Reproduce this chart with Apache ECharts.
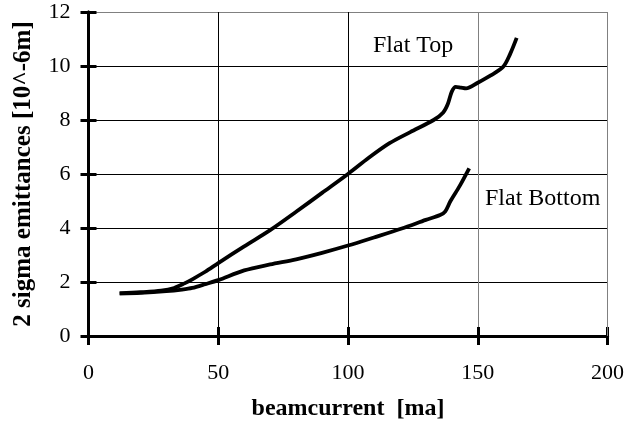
<!DOCTYPE html>
<html><head><meta charset="utf-8">
<script src="https://cdn.jsdelivr.net/npm/echarts@6/dist/echarts.min.js"></script>
<style>html,body{margin:0;padding:0;background:#fff}#c{width:628px;height:431px}</style>
</head><body><div id="c"></div>
<script>
const xTicks = [0, 50, 100, 150, 200];
const yTicks = [0, 2, 4, 6, 8, 10, 12];
const flatTopX = [12, 20, 28, 33, 37, 40, 45, 50, 60, 70, 80, 90, 100, 108, 116, 124, 133, 136.7, 138.5, 140, 141.5, 143.5, 145.5, 150, 155, 159.8, 162.5, 165];
const flatTopY = [1.58, 1.62, 1.68, 1.78, 1.95, 2.1, 2.38, 2.7, 3.32, 3.92, 4.6, 5.3, 6.0, 6.6, 7.14, 7.55, 8.0, 8.28, 8.6, 9.05, 9.23, 9.2, 9.17, 9.38, 9.65, 9.97, 10.45, 11.04];
const flatBottomX = [12, 20, 30, 36, 40, 45, 50, 60, 70, 80, 90, 100, 110, 120.7, 130, 135.5, 137.5, 139.5, 143, 146.7];
const flatBottomY = [1.58, 1.60, 1.66, 1.72, 1.78, 1.92, 2.07, 2.43, 2.65, 2.84, 3.08, 3.35, 3.65, 3.98, 4.3, 4.48, 4.62, 5.0, 5.55, 6.21];
const xTitle = 'beamcurrent  [ma]';
const yTitle = '2 sigma emittances [10^-6m]';
const labelTop = 'Flat Top';
const labelBottom = 'Flat Bottom';

const font = 'Liberation Serif';
const chart = echarts.init(document.getElementById('c'), null, {renderer: 'canvas'});
const pairs = (xs, ys) => xs.map((x, i) => [x, ys[i]]);
const baseX = {
  type: 'value', min: xTicks[0], max: xTicks[xTicks.length - 1], interval: xTicks[1] - xTicks[0],
  axisLine: {show: true, onZero: false, lineStyle: {color: '#000', width: 3}},
  axisTick: {show: true, length: 9, lineStyle: {color: '#000', width: 3}},
};
const baseY = {
  type: 'value', min: yTicks[0], max: yTicks[yTicks.length - 1], interval: yTicks[1] - yTicks[0],
  axisLine: {show: true, onZero: false, lineStyle: {color: '#000', width: 3}},
  axisTick: {show: true, length: 8, lineStyle: {color: '#000', width: 3}},
};
chart.setOption({
  animation: false,
  grid: {left: 88.5, right: 20.5, top: 12, bottom: 95, show: false},
  xAxis: [
    Object.assign({}, baseX, {
      name: xTitle, nameLocation: 'middle', nameGap: 61,
      nameTextStyle: {fontFamily: font, fontWeight: 'bold', fontSize: 24, color: '#000'},
      axisLabel: {fontFamily: font, fontSize: 22, color: '#000', margin: 26},
      splitLine: {show: true, lineStyle: {color: ['#000', '#000', '#000', '#808080', '#808080'], width: 1}},
    }),
    Object.assign({}, baseX, {
      position: 'bottom', axisTick: {show: true, inside: true, length: 9, lineStyle: {color: '#000', width: 3}},
      axisLabel: {show: false}, splitLine: {show: false}
    })
  ],
  yAxis: [
    Object.assign({}, baseY, {
      name: yTitle, nameLocation: 'middle', nameGap: 52,
      nameTextStyle: {fontFamily: font, fontWeight: 'bold', fontSize: 25, color: '#000'},
      axisLabel: {fontFamily: font, fontSize: 22, color: '#000', margin: 18},
      splitLine: {show: true, lineStyle: {color: ['#000', '#000', '#000', '#000', '#000', '#000', '#808080'], width: 1}},
    }),
    Object.assign({}, baseY, {
      position: 'left', axisTick: {show: true, inside: true, length: 8, lineStyle: {color: '#000', width: 3}},
      axisLabel: {show: false}, splitLine: {show: false}
    })
  ],
  graphic: [
    {type: 'line', shape: {x1: 607.5, y1: 12, x2: 607.5, y2: 336}, style: {stroke: '#808080', lineWidth: 1}, z: 1},
    {type: 'text', x: 373, y: 45.5, style: {text: labelTop, font: '24px "Liberation Serif"', fill: '#000', verticalAlign: 'middle'}},
    {type: 'text', x: 485, y: 199, style: {text: labelBottom, font: '24px "Liberation Serif"', fill: '#000', verticalAlign: 'middle'}}
  ],
  series: [
    {type: 'line', data: pairs(flatTopX, flatTopY), smooth: 0.3, showSymbol: false, lineStyle: {color: '#000', width: 3.8}, z: 5},
    {type: 'line', data: pairs(flatBottomX, flatBottomY), smooth: 0.3, showSymbol: false, lineStyle: {color: '#000', width: 3.8}, z: 5}
  ]
});
</script></body></html>
